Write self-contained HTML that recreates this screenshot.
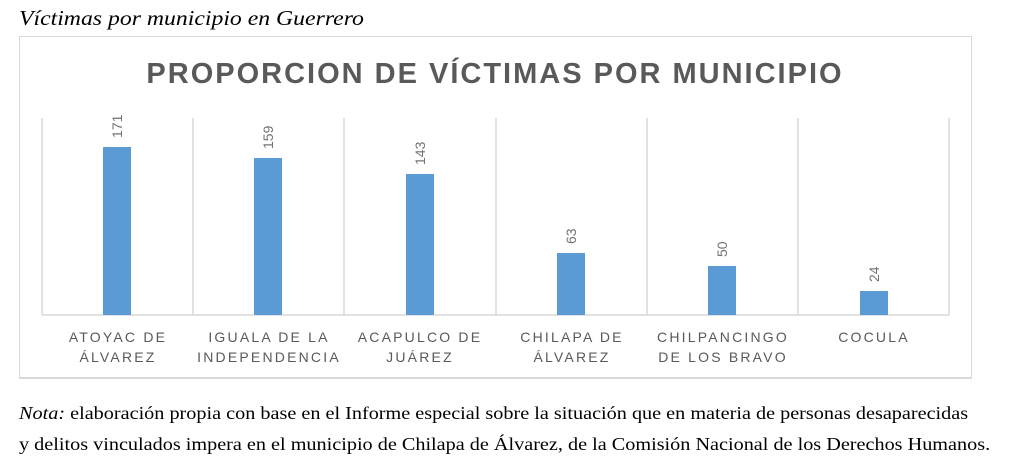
<!DOCTYPE html>
<html><head><meta charset="utf-8"><style>
body{margin:0;width:1028px;height:470px;background:#fff;overflow:hidden;position:relative;font-family:"Liberation Serif",serif}
.h{position:absolute;left:19px;top:6px;font-size:21px;font-style:italic;color:#000;transform-origin:0 0;transform:scaleX(1.13);white-space:nowrap}
.box{position:absolute;left:19px;top:36px;width:953px;height:343px;border:1px solid #d9d9d9;border-bottom:2px solid #d9d9d9;box-sizing:border-box}
.note{position:absolute;left:19px;top:398px;font-size:18px;line-height:31px;color:#000;transform-origin:0 0;transform:scaleX(1.123);white-space:nowrap}
</style></head><body>
<div class="h">Víctimas por municipio en Guerrero</div>
<div class="box"></div>
<svg width="1028" height="470" style="position:absolute;left:0;top:0" font-family="Liberation Sans, sans-serif">
<text x="495" y="83" text-anchor="middle" font-size="29" font-weight="bold" fill="#595959" letter-spacing="2">PROPORCION DE VÍCTIMAS POR MUNICIPIO</text>
<g stroke="#d9d9d9" stroke-width="1.5">
<line x1="42" y1="118" x2="42" y2="315"/><line x1="193" y1="118" x2="193" y2="315"/><line x1="344" y1="118" x2="344" y2="315"/><line x1="496" y1="118" x2="496" y2="315"/><line x1="647" y1="118" x2="647" y2="315"/><line x1="798" y1="118" x2="798" y2="315"/><line x1="949" y1="118" x2="949" y2="315"/>
<line x1="42" y1="315" x2="949" y2="315"/>
</g>
<g fill="#5b9bd5">
<rect x="103" y="147" width="28" height="168"/><rect x="254" y="158" width="28" height="157"/><rect x="406" y="174" width="28" height="141"/><rect x="557" y="253" width="28" height="62"/><rect x="708" y="266" width="28" height="49"/><rect x="860" y="291" width="28" height="24"/>
</g>
<g fill="#767171" font-size="14">
<text transform="translate(122,138) rotate(-90)">171</text>
<text transform="translate(273,149) rotate(-90)">159</text>
<text transform="translate(425,165) rotate(-90)">143</text>
<text transform="translate(576,244) rotate(-90)">63</text>
<text transform="translate(727,257) rotate(-90)">50</text>
<text transform="translate(879,282) rotate(-90)">24</text>
</g>
<g fill="#595959" font-size="14" text-anchor="middle" letter-spacing="2.2">
<text x="118" y="342">ATOYAC DE</text><text x="118" y="362">ÁLVAREZ</text>
<text x="269" y="342">IGUALA DE LA</text><text x="269" y="362">INDEPENDENCIA</text>
<text x="420" y="342">ACAPULCO DE</text><text x="420" y="362">JUÁREZ</text>
<text x="572" y="342">CHILAPA DE</text><text x="572" y="362">ÁLVAREZ</text>
<text x="723" y="342">CHILPANCINGO</text><text x="723" y="362">DE LOS BRAVO</text>
<text x="874" y="342">COCULA</text>
</g>
</svg>
<div class="note"><i>Nota:</i> elaboración propia con base en el Informe especial sobre la situación que en materia de personas desaparecidas<br>y delitos vinculados impera en el municipio de Chilapa de Álvarez, de la Comisión Nacional de los Derechos Humanos.</div>
</body></html>
